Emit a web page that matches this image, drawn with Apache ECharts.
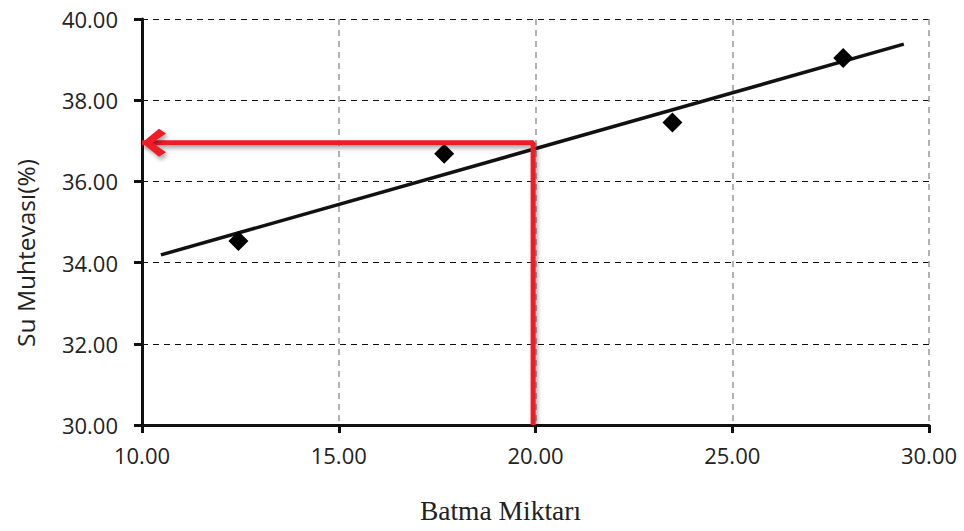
<!DOCTYPE html>
<html>
<head>
<meta charset="utf-8">
<script src="https://cdn.jsdelivr.net/npm/echarts@6/dist/echarts.min.js"></script>
<style>
  html, body { margin: 0; padding: 0; background: #fff; }
  #chart { width: 964px; height: 531px; }
</style>
</head>
<body>
<div id="chart"></div>
<script>
// measured points (Batma Miktarı, Su Muhtevası)
const batma = [12.45, 17.68, 23.48, 27.82];
const suMuhteva = [34.53, 36.68, 37.45, 39.04];

// linear trend line end points
const trendX = [10.48, 29.36];
const trendY = [34.19, 39.38];

// red reading line: from x axis up to the trend, then left to the y axis
const readX = [19.94, 19.94, 10.0];
const readY = [30.0, 36.95, 36.95];

const chart = echarts.init(document.getElementById("chart"), null, { renderer: "svg" });

const labelFont = "'Open Sans', 'Liberation Sans', sans-serif";

const option = {
  animation: false,
  grid: { left: 142, right: 35, top: 19, bottom: 106 },
  xAxis: {
    type: "value",
    min: 10,
    max: 30,
    interval: 5,
    name: "Batma Miktarı",
    nameLocation: "middle",
    nameGap: 71,
    nameTextStyle: {
      fontFamily: "'Liberation Serif', serif",
      fontSize: 27.5,
      color: "#222",
      padding: [0, 70, 0, 0],
    },
    axisLine: { lineStyle: { color: "#111", width: 3 } },
    axisTick: { show: true, length: 8, lineStyle: { color: "#111", width: 3 } },
    axisLabel: {
      fontFamily: labelFont,
      fontSize: 22,
      color: "#222",
      margin: 19,
      formatter: (v) => v.toFixed(2),
    },
    splitLine: { show: true, lineStyle: { color: "#999", type: [6, 5], width: 1.5 } },
  },
  yAxis: {
    type: "value",
    min: 30,
    max: 40,
    interval: 2,
    name: "Su Muhtevası(%)",
    nameLocation: "middle",
    nameGap: 104,
    nameTextStyle: {
      fontFamily: labelFont,
      fontSize: 24.5,
      color: "#222",
      padding: [0, 62, 0, 0],
    },
    axisLine: { show: true, lineStyle: { color: "#111", width: 3 } },
    axisTick: { show: true, length: 8, lineStyle: { color: "#111", width: 3 } },
    axisLabel: {
      fontFamily: labelFont,
      fontSize: 22,
      color: "#222",
      margin: 24,
      formatter: (v) => v.toFixed(2),
    },
    splitLine: { show: true, lineStyle: { color: "#111", type: [6, 5], width: 1.2 } },
  },
  series: [
    {
      type: "line",
      data: trendX.map((x, i) => [x, trendY[i]]),
      symbol: "none",
      lineStyle: { color: "#111", width: 3.5 },
      z: 3,
    },
    {
      type: "scatter",
      data: batma.map((x, i) => [x, suMuhteva[i]]),
      symbol: "diamond",
      symbolSize: [20, 20],
      itemStyle: { color: "#000", opacity: 1 },
      z: 4,
    },
    {
      type: "line",
      data: readX.map((x, i) => [x, readY[i]]),
      symbol: "none",
      lineStyle: {
        color: "#ee1c25",
        width: 5,
        shadowColor: "rgba(0,0,0,0.35)",
        shadowBlur: 4,
        shadowOffsetY: 3,
        shadowOffsetX: 2,
      },
      z: 5,
    },
    {
      type: "scatter",
      data: [[readX[2], readY[2]]],
      symbol: "path://M12,0 L17,4 L7.5,12 L17,20 L12,24 L0,12 Z",
      symbolSize: [24, 28],
      symbolOffset: [12, 0],
      itemStyle: {
        color: "#ee1c25",
        opacity: 1,
        shadowColor: "rgba(0,0,0,0.35)",
        shadowBlur: 4,
        shadowOffsetY: 3,
        shadowOffsetX: 2,
      },
      z: 6,
    },
  ],
};

option && chart.setOption(option);
</script>
</body>
</html>
